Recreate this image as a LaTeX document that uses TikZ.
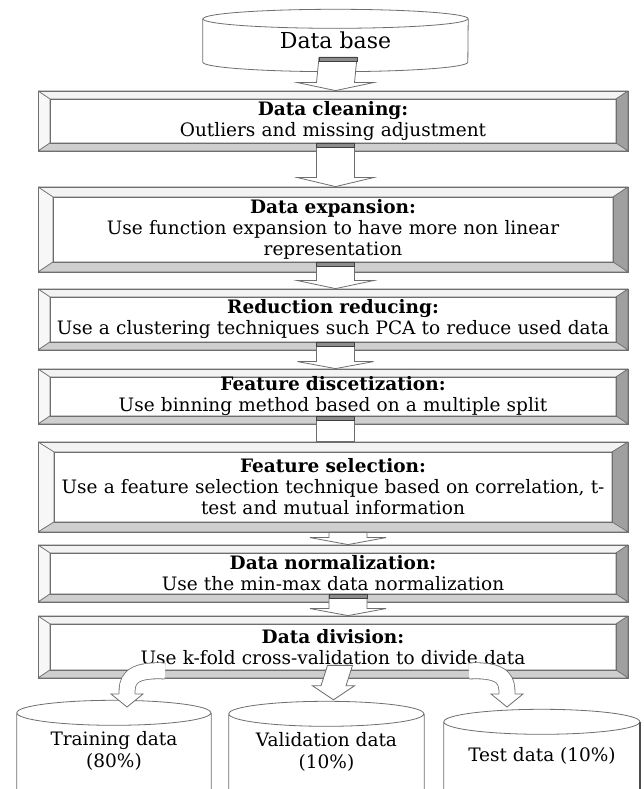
\documentclass[tikz,border=0pt]{standalone}
\usepackage{fontspec}
\setmainfont{DejaVu Serif}
\usetikzlibrary{calc,backgrounds}

\definecolor{edge}{HTML}{6E6E6E}
\definecolor{bevtop}{HTML}{F3F3F3}
\definecolor{bevleft}{HTML}{F7F7F7}
\definecolor{bevright}{HTML}{A0A0A0}
\definecolor{bevbottom}{HTML}{CFCFCF}
\definecolor{barfill}{HTML}{8C8C8C}

% storage drum drawn behind its label: name, x radius, y radius
\newcommand\drum[3]{%
  \filldraw[drumbody] (#1.north west) -- (#1.south west)
    arc[start angle=180, end angle=360, x radius=#2, y radius=#3]
    -- (#1.north east)
    arc[start angle=0, end angle=180, x radius=#2, y radius=#3] -- cycle;
  \draw[drumbody] (#1.north west)
    arc[start angle=180, end angle=360, x radius=#2, y radius=#3];
}
% open drum (sides run to the lower edge): name, x radius, y radius
\newcommand\opendrum[3]{%
  \fill[white] (#1.north west) rectangle (#1.south east);
  \draw[drumbody] (#1.south west) -- (#1.north west)
    arc[start angle=180, end angle=-180, x radius=#2, y radius=#3]
    (#1.north east) -- (#1.south east);
}
% hollow block arrow: from, to, x offset, depth into source, tip offset,
% head length, shaft half width, head half width, top bar (1/0)
\newcommand\flow[9]{%
  \path ($(#1.south)+(#3,#4)$) coordinate (ftop)
        ($(#2.north)+(#3,#5)$) coordinate (ftip);
  \draw[blockarrow] ($(ftop)+(-#7,0)$) -- ($(ftip)+(-#7,#6)$)
    -- ($(ftip)+(-#8,#6)$) -- (ftip) -- ($(ftip)+(#8,#6)$)
    -- ($(ftip)+(#7,#6)$) -- ($(ftop)+(#7,0)$) -- cycle;
  \ifnum#9=1
    \filldraw[topbar] ($(ftop)+(-#7,0)$) rectangle ($(ftop)+(#7,-4)$);
  \fi
}

\tikzset{
  panel/.style 2 args={
    draw=edge, line width=0.8pt, fill=white, inner sep=0pt,
    minimum width=590, text width=580pt, align=center,
    font=\fontsize{18.5}{21}\selectfont,
    path picture={
      \path (path picture bounding box.north west) coordinate (nw)
            (path picture bounding box.north east) coordinate (ne)
            (path picture bounding box.south east) coordinate (se)
            (path picture bounding box.south west) coordinate (sw);
      \path ($(nw)+(#1pt,-#2pt)$) coordinate (inw)
            ($(ne)+(-#1pt,-#2pt)$) coordinate (ine)
            ($(se)+(-#1pt,#2pt)$) coordinate (ise)
            ($(sw)+(#1pt,#2pt)$) coordinate (isw);
      \filldraw[bevel, fill=bevtop] (nw) -- (ne) -- (ine) -- (inw) -- cycle;
      \filldraw[bevel, fill=bevleft] (nw) -- (inw) -- (isw) -- (sw) -- cycle;
      \filldraw[bevel, fill=bevright] (ne) -- (se) -- (ise) -- (ine) -- cycle;
      \filldraw[bevel, fill=bevbottom] (sw) -- (isw) -- (ise) -- (se) -- cycle;
      \draw[bevel] (inw) rectangle (ise);
    }},
  bevel/.style={draw=edge, line width=0.6pt},
  drumtext/.style={inner sep=0pt, align=center, font=\fontsize{18.5}{22}\selectfont},
  drumbody/.style={draw=edge, line width=0.8pt, fill=white},
  blockarrow/.style={draw=edge, line width=0.8pt, fill=white, line join=miter},
  topbar/.style={draw=black!75, line width=0.7pt, fill=barfill},
  band/.style={draw=edge, line width=16.8pt},
  bandfill/.style={draw=white, line width=15.2pt},
}

\begin{document}
\begin{tikzpicture}[x=1pt, y=1pt]
\useasboundingbox (0,0) rectangle (643,789);
\begin{scope}[on background layer]
  \fill[white] (0,0) rectangle (643,789);
\end{scope}

% source database
\node[drumtext, minimum width=265, minimum height=43,
      font=\fontsize{22}{26}\selectfont] (db) at (335.5,748.5) {Data base};

% processing stages
\node[panel={12}{8}, minimum height=60] (clean) at (333,668)
  {\textbf{Data cleaning:}\\Outliers and missing adjustment};
\node[panel={15}{10}, minimum height=85] (expand) at (333,559.5)
  {\textbf{Data expansion:}\\Use function expansion to have more non linear\\representation};
\node[panel={12}{8}, minimum height=61] (reduce) at (333,469.5)
  {\textbf{Reduction reducing:}\\Use a clustering techniques such PCA to reduce used data};
\node[panel={12}{8}, minimum height=55] (discr) at (333,392.5)
  {\textbf{Feature discetization:}\\Use binning method based on a multiple split};
\node[panel={16}{10}, minimum height=90] (select) at (333,302)
  {\textbf{Feature selection:}\\Use a feature selection technique based on correlation, t-\\test and mutual information};
\node[panel={12}{8}, minimum height=57] (norm) at (333,215.5)
  {\textbf{Data normalization:}\\Use the min-max data normalization};
\node[panel={12}{8}, minimum height=62] (div) at (333,142)
  {\textbf{Data division:}\\Use k-fold cross-validation to divide data};

% resulting data sets
\node[drumtext, minimum width=194, minimum height=76] (train) at (114,38)
  {Training data\\(80\%)};
\node[drumtext, minimum width=195, minimum height=75] (valid) at (326.5,37.5)
  {Validation data\\(10\%)};
\node[drumtext, minimum width=196, minimum height=67] (test) at (542,33.5)
  {Test data (10\%)};

\begin{scope}[on background layer]
  \drum{db}{132.5}{9.5}
  \opendrum{train}{97}{12.5}
  \opendrum{valid}{97.5}{12.5}
  \opendrum{test}{98}{12.5}
  \draw[black!70, line width=2.5pt] (test.north east) -- (test.south east);
\end{scope}

% stage-to-stage arrows
\flow{db}{clean}{2.5}{5}{0}{8}{19}{38}{1}
\flow{clean}{expand}{2.5}{8}{0}{9}{19}{38}{1}
\flow{expand}{reduce}{2.5}{10}{0}{8}{19}{38}{1}
\flow{reduce}{discr}{2.5}{8}{0}{7}{19}{38}{1}
\flow{discr}{select}{2.5}{8}{0}{0}{19}{19}{1}
\flow{select}{norm}{15}{0}{0}{7}{19}{38}{0}
\flow{norm}{div}{15}{8}{0}{7}{19}{38}{1}
\flow{div}{valid}{7}{13}{14}{14}{12.5}{21}{0}

% curved split arrows
\coordinate (ls) at (165,118);
\coordinate (le) at (127,95);
\draw[band] (ls) .. controls (128,120) and (127,107) .. (le);
\draw[bandfill] (ls) .. controls (128,120) and (127,107) .. (le);
\fill[white] (111,95) -- (127,82) -- (143,95) -- cycle;
\draw[blockarrow, fill=none] (119,95) -- (111,95) -- (127,82) -- (143,95) -- (135,95);

\coordinate (rs) at (469,118);
\coordinate (re) at (507,95);
\draw[band] (rs) .. controls (506,120) and (507,107) .. (re);
\draw[bandfill] (rs) .. controls (506,120) and (507,107) .. (re);
\fill[white] (491,95) -- (507,82) -- (523,95) -- cycle;
\draw[blockarrow, fill=none] (499,95) -- (491,95) -- (507,82) -- (523,95) -- (515,95);
\end{tikzpicture}
\end{document}
